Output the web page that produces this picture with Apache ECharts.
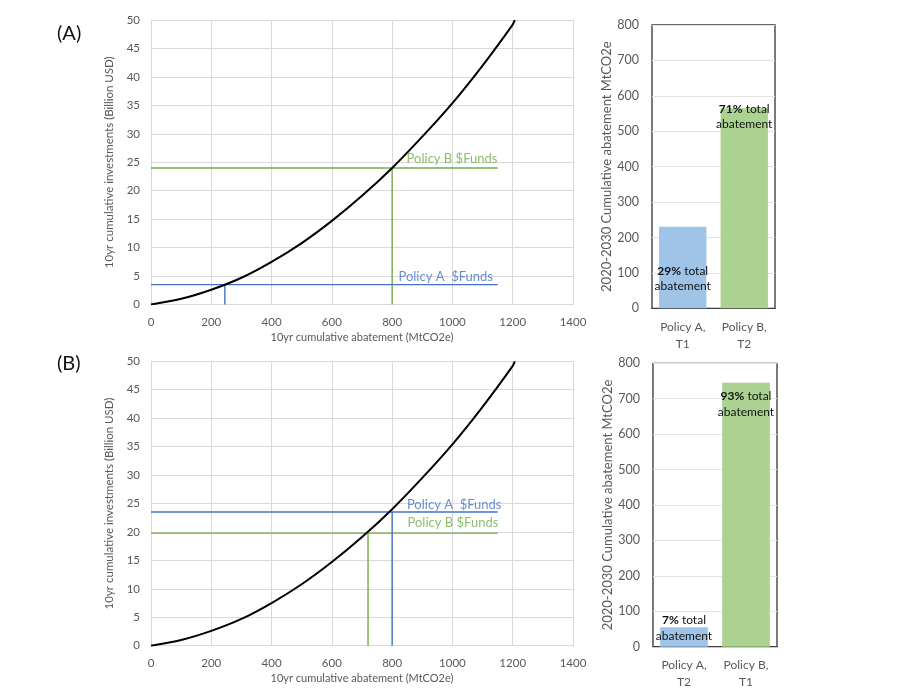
<!DOCTYPE html>
<html>
<head>
<meta charset="utf-8">
<script src="https://cdn.jsdelivr.net/npm/echarts@6/dist/echarts.min.js"></script>
<style>
html,body{margin:0;padding:0;background:#fff;}
#chart{width:900px;height:696px;}
</style>
</head>
<body>
<div id="chart"></div>
<script>
// ---- data ----
const curveX = [0, 100, 200, 300, 400, 500, 600, 700, 800, 900, 1000, 1100, 1200, 1207];
const curveY = [0, 1.0, 2.6, 4.7, 7.5, 10.8, 14.7, 19.1, 24.0, 29.5, 35.4, 42.0, 49.2, 50];
const fundsLineEnd = 1150;

// panel A
const A_fundsPolicyA = 3.5, A_abatePolicyA = 245;
const A_fundsPolicyB = 24, A_abatePolicyB = 800;
// panel B
const B_fundsPolicyA = 23.5, B_abatePolicyA = 800;
const B_fundsPolicyB = 19.8, B_abatePolicyB = 720;

const A_barCats = ['Policy A,\nT1', 'Policy B,\nT2'];
const A_barVals = [230, 565];
const A_barPct = ['29%', '71%'];
const B_barCats = ['Policy A,\nT2', 'Policy B,\nT1'];
const B_barVals = [55, 745];
const B_barPct = ['7%', '93%'];

const xTitle = '10yr cumulative abatement (MtCO2e)';
const yTitle = '10yr cumulative investments (Billion USD)';
const barYTitle = '2020-2030 Cumulative abatement MtCO2e';

// ---- styling ----
const FONT = 'Lato';
const BLUE = '#4472C4', GREEN = '#70AD47';
const BAR_BLUE = '#9FC4E7', BAR_GREEN = '#ABD291';
const GRID_C = '#d9d9d9', TXT = '#595959';

const curve = curveX.map((x, i) => [x, curveY[i]]);

function hLine(f) { return [[0, f], [fundsLineEnd, f]]; }
function vLine(a, f) { return [[a, 0], [a, f]]; }

function valX(gi) {
  return {
    type: 'value', gridIndex: gi, min: 0, max: 1400, interval: 200,
    name: xTitle, nameLocation: 'middle', nameGap: 27,
    nameTextStyle: { color: TXT, fontSize: 11, fontFamily: FONT },
    axisLine: { show: true, lineStyle: { color: GRID_C } },
    axisTick: { show: false },
    axisLabel: { color: TXT, fontSize: 11.5, fontFamily: FONT, margin: 12, formatter: v => String(v) },
    splitLine: { show: true, lineStyle: { color: GRID_C, width: 1 } }
  };
}
function valY(gi) {
  return {
    type: 'value', gridIndex: gi, min: 0, max: 50, interval: 5,
    name: yTitle, nameLocation: 'middle', nameGap: 36,
    nameTextStyle: { color: TXT, fontSize: 11.5, fontFamily: FONT },
    axisLine: { show: true, lineStyle: { color: GRID_C } },
    axisTick: { show: false },
    axisLabel: { color: TXT, fontSize: 11.5, fontFamily: FONT, margin: 11 },
    splitLine: { show: true, lineStyle: { color: GRID_C, width: 1 } }
  };
}
function catX(gi, cats) {
  return {
    type: 'category', gridIndex: gi, data: cats,
    axisLine: { show: true, lineStyle: { color: '#404040' } },
    axisTick: { show: false },
    axisLabel: { color: TXT, fontSize: 12, fontFamily: FONT, margin: 10, lineHeight: 17 }
  };
}
function barY(gi) {
  return {
    type: 'value', gridIndex: gi, min: 0, max: 800, interval: 100,
    name: barYTitle, nameLocation: 'middle', nameGap: 37,
    nameTextStyle: { color: TXT, fontSize: 13, fontFamily: FONT },
    axisLine: { show: false },
    axisTick: { show: false },
    axisLabel: { color: TXT, fontSize: 12.5, fontFamily: FONT, margin: 13 },
    splitLine: { show: true, lineStyle: { color: '#e3e3e3', width: 1 } }
  };
}

function lineSeries(idx, data, color, width, z) {
  return {
    type: 'line', xAxisIndex: idx, yAxisIndex: idx, data: data,
    symbol: 'none', lineStyle: { color: color, width: width }, z: z,
    silent: true, animation: false
  };
}
function textSeries(idx, pos, text, color) {
  return {
    type: 'scatter', xAxisIndex: idx, yAxisIndex: idx,
    data: [pos], symbolSize: 0, silent: true, animation: false, z: 10,
    label: {
      show: true, position: 'right', distance: 0, formatter: text,
      color: color, fontSize: 13, fontFamily: FONT
    }
  };
}
const richLbl = {
  b: { fontWeight: 'bold', fontSize: 12, color: '#111', fontFamily: FONT, lineHeight: 15.5 },
  n: { fontSize: 12, color: '#111', fontFamily: FONT, lineHeight: 15.5 }
};
function barSeries(idx, vals, pcts, labelCfg) {
  const colors = [BAR_BLUE, BAR_GREEN];
  return {
    type: 'bar', xAxisIndex: idx, yAxisIndex: idx, barWidth: '77%',
    animation: false, silent: true,
    data: vals.map((v, i) => ({
      value: v,
      itemStyle: { color: colors[i] },
      label: Object.assign({
        show: true,
        formatter: '{b|' + pcts[i] + '}{n| total}\n{n|abatement}',
        rich: richLbl, align: 'center'
      }, labelCfg[i])
    }))
  };
}

const option = {
  backgroundColor: '#fff',
  animation: false,
  title: [
    { text: '(A)', left: 52, top: 19, textStyle: { fontSize: 20, fontWeight: 'normal', color: '#111', fontFamily: FONT } },
    { text: '(B)', left: 52, top: 349, textStyle: { fontSize: 20, fontWeight: 'normal', color: '#111', fontFamily: FONT } }
  ],
  grid: [
    { left: 151, top: 20, width: 422, height: 284.5 },
    { left: 151, top: 361.3, width: 422, height: 284.4 },
    { left: 652, top: 25, width: 123, height: 283.3, show: true, borderColor: '#333', borderWidth: 1.3, backgroundColor: 'transparent' },
    { left: 653, top: 363.3, width: 124, height: 283.4, show: true, borderColor: '#333', borderWidth: 1.3, backgroundColor: 'transparent' }
  ],
  xAxis: [valX(0), valX(1), catX(2, A_barCats), catX(3, B_barCats)],
  yAxis: [valY(0), valY(1), barY(2), barY(3)],
  series: [
    // panel A
    lineSeries(0, hLine(A_fundsPolicyB), GREEN, 1.4, 3),
    lineSeries(0, vLine(A_abatePolicyB, A_fundsPolicyB), GREEN, 1.4, 3),
    lineSeries(0, hLine(A_fundsPolicyA), BLUE, 1.4, 3),
    lineSeries(0, vLine(A_abatePolicyA, A_fundsPolicyA), BLUE, 1.4, 3),
    Object.assign(lineSeries(0, curve, '#000', 2, 5), { smooth: 0.3 }),
    textSeries(0, [848, 25.6], 'Policy B $Funds', GREEN),
    textSeries(0, [821, 4.8], 'Policy A  $Funds', BLUE),
    // panel B
    lineSeries(1, hLine(B_fundsPolicyB), GREEN, 1.4, 3),
    lineSeries(1, vLine(B_abatePolicyB, B_fundsPolicyB), GREEN, 1.4, 3),
    lineSeries(1, hLine(B_fundsPolicyA), BLUE, 1.4, 3),
    lineSeries(1, vLine(B_abatePolicyA, B_fundsPolicyA), BLUE, 1.4, 3),
    Object.assign(lineSeries(1, curve, '#000', 2, 5), { smooth: 0.3 }),
    textSeries(1, [849, 24.85], 'Policy A  $Funds', BLUE),
    textSeries(1, [851, 21.6], 'Policy B $Funds', GREEN),
    // bars
    barSeries(2, A_barVals, A_barPct, [
      { position: 'insideBottom', distance: 14 },
      { position: 'insideTop', distance: -7 }
    ]),
    barSeries(3, B_barVals, B_barPct, [
      { position: 'insideBottom', distance: 3 },
      { position: 'insideTop', distance: 6 }
    ])
  ]
};

const chart = echarts.init(document.getElementById('chart'), null, { renderer: 'canvas' });
chart.setOption(option);
</script>
</body>
</html>
